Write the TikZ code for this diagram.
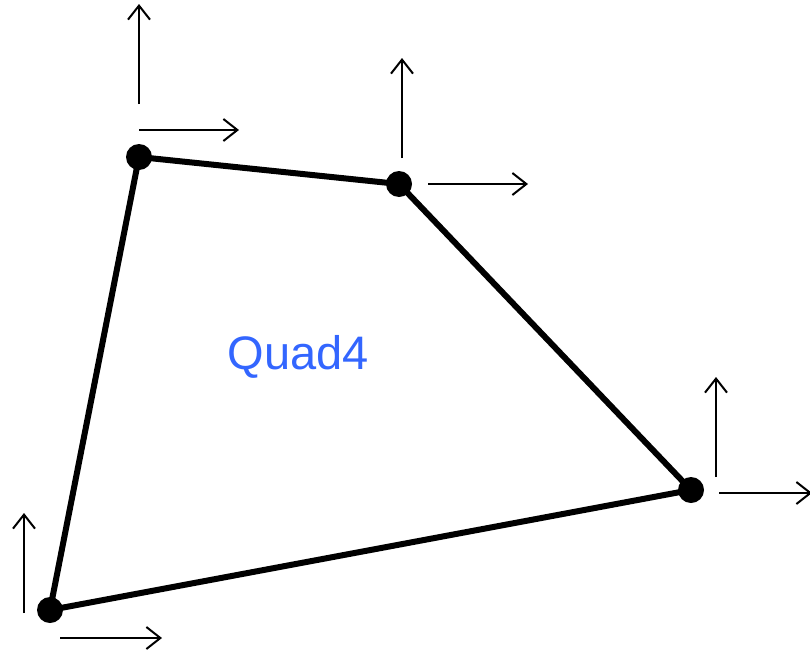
\documentclass[tikz,border=0pt]{standalone}
\usepackage{fontspec}
\setmainfont{Liberation Sans}
\usetikzlibrary{arrows.meta}
\definecolor{quadblue}{RGB}{51,102,255}
\begin{document}
\begin{tikzpicture}[x=1pt,y=-1pt,
  vertex/.style={circle,fill=black,inner sep=0pt,minimum size=26pt},
  edge/.style={line width=6pt},
  dofarrow/.style={line width=2pt,-{Straight Barb[length=14pt,width=22pt,line width=2pt]}}]
\useasboundingbox (0,0) rectangle (810,653);
\coordinate (a) at (50,610);
\coordinate (b) at (139,157);
\coordinate (c) at (399,184);
\coordinate (d) at (691,490);
\draw[edge,line join=round] (a) -- (b) -- (c) -- (d) -- cycle;
\foreach \p in {a,b,c,d} \node[vertex] (n\p) at (\p) {};
% DOF arrows
\coordinate (av0) at (24,613); \coordinate (av1) at (24,513);
\coordinate (ah0) at (60,638); \coordinate (ah1) at (162,638);
\coordinate (bv0) at (139,104); \coordinate (bv1) at (139,4);
\coordinate (bh0) at (139,130); \coordinate (bh1) at (239,130);
\coordinate (cv0) at (402,158); \coordinate (cv1) at (402,58);
\coordinate (ch0) at (428,184); \coordinate (ch1) at (528,184);
\coordinate (dv0) at (716,477); \coordinate (dv1) at (716,377);
\coordinate (dh0) at (719,493); \coordinate (dh1) at (812,493);
\foreach \p in {a,b,c,d} {
  \draw[dofarrow] (\p v0) -- (\p v1);
  \draw[dofarrow] (\p h0) -- (\p h1);
}
\node[text=quadblue,font=\fontsize{47}{52}\selectfont] (label) at (298,357) {Quad4};
\end{tikzpicture}
\end{document}
